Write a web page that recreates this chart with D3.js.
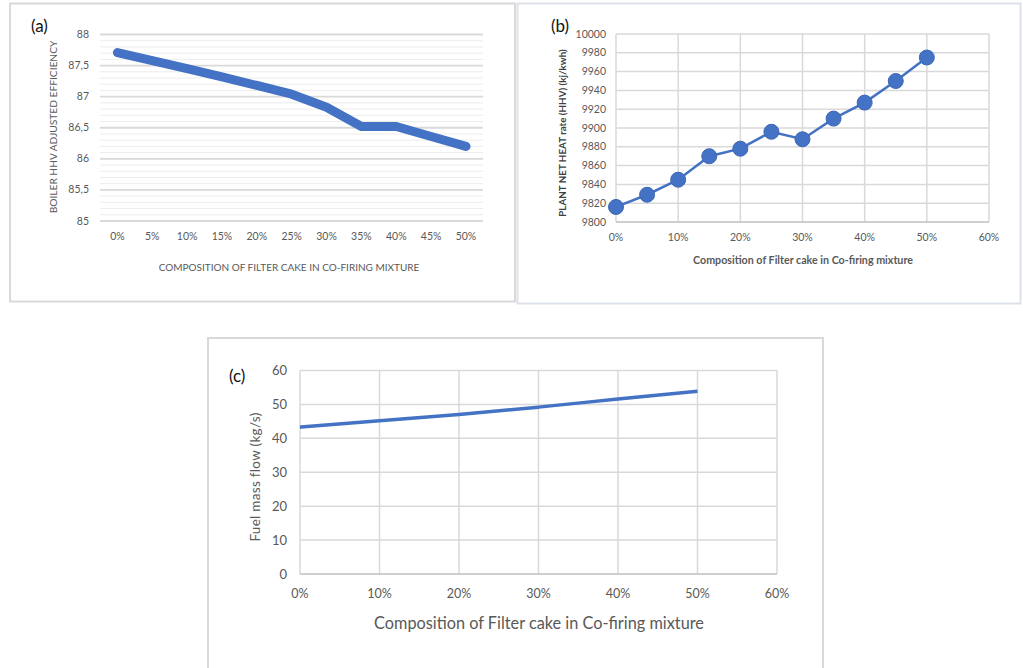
<!DOCTYPE html>
<html><head><meta charset="utf-8">
<script src="https://cdn.jsdelivr.net/npm/d3@7"></script>
<style>
body{margin:0;background:#fff;}
svg{display:block;font-family:Lato,"Open Sans",sans-serif;}
</style></head>
<body><svg id="c" width="1023" height="668"></svg>
<script>
// ---- data ----
const catsA = ["0%","5%","10%","15%","20%","25%","30%","35%","40%","45%","50%"];
const effA = [87.71,87.58,87.45,87.32,87.18,87.04,86.83,86.52,86.52,86.36,86.2];
const yTicksA = [85,85.5,86,86.5,87,87.5,88];

const compB = [0,5,10,15,20,25,30,35,40,45,50];
const heatB = [9816,9829,9845,9870,9878,9896,9888,9910,9927,9950,9975];
const yTicksB = [9800,9820,9840,9860,9880,9900,9920,9940,9960,9980,10000];
const xTicksB = [0,10,20,30,40,50,60];

const compC = [0,10,20,30,40,50];
const flowC = [43.3,45.2,47.0,49.2,51.6,53.9];
const yTicksC = [0,10,20,30,40,50,60];
const xTicksC = [0,10,20,30,40,50,60];

const blue = "#4472C4";
const grid = "#d9d9d9";
const tickCol = "#595959";
const svg = d3.select("#c");

// panel borders
svg.append("rect").attr("x",10).attr("y",3.5).attr("width",505).attr("height",298).attr("fill","none").attr("stroke","#d9d9d9").attr("stroke-width",2);
svg.append("rect").attr("x",517.5).attr("y",3.5).attr("width",503).attr("height",300).attr("fill","none").attr("stroke","#dde2ea").attr("stroke-width",2);
svg.append("rect").attr("x",208).attr("y",338).attr("width",615).attr("height",340).attr("fill","none").attr("stroke","#d9d9d9").attr("stroke-width",2);

// ===== Panel (a) =====
{
  const x = d3.scalePoint().domain(catsA).range([117.4,466]);
  const y = d3.scaleLinear().domain([85,88]).range([221,34.5]);
  const g = svg.append("g");
  const minor = d3.range(85,88.001,0.1).map(v=>+v.toFixed(1));
  g.selectAll(".mn").data(minor.filter(v=>!yTicksA.some(t=>Math.abs(t-v)<1e-6))).join("line")
    .attr("x1",100).attr("x2",483).attr("y1",d=>y(d)).attr("y2",d=>y(d))
    .attr("stroke","#ececec").attr("stroke-width",1);
  g.selectAll(".mj").data(yTicksA).join("line")
    .attr("x1",100).attr("x2",483).attr("y1",d=>y(d)).attr("y2",d=>y(d))
    .attr("stroke",grid).attr("stroke-width",1.8);
  g.selectAll(".yl").data(yTicksA).join("text")
    .attr("x",89).attr("y",d=>y(d)+3.5).attr("text-anchor","end")
    .attr("font-size",10.5).attr("fill",tickCol).text(d=>String(d).replace(".",","));
  g.selectAll(".xl").data(catsA).join("text")
    .attr("x",d=>x(d)).attr("y",240).attr("text-anchor","middle")
    .attr("font-size",10.5).attr("fill",tickCol).text(d=>d);
  g.append("path").datum(effA).attr("fill","none").attr("stroke",blue)
    .attr("stroke-width",9).attr("stroke-linejoin","round").attr("stroke-linecap","round")
    .attr("d",d3.line().x((d,i)=>x(catsA[i])).y(d=>y(d)));
  g.append("text").attr("x",289).attr("y",271).attr("text-anchor","middle")
    .attr("font-size",10).attr("fill",tickCol).text("COMPOSITION OF FILTER CAKE IN CO-FIRING MIXTURE");
  g.append("text").attr("transform","translate(57,127) rotate(-90)").attr("text-anchor","middle")
    .attr("font-size",10.2).attr("fill",tickCol).text("BOILER HHV ADJUSTED EFFICIENCY");
  g.append("text").attr("x",31).attr("y",32).attr("font-size",17).attr("fill","#111").text("(a)");
}

// ===== Panel (b) =====
{
  const x = d3.scaleLinear().domain([0,60]).range([616,989]);
  const y = d3.scaleLinear().domain([9800,10000]).range([222,34]);
  const g = svg.append("g");
  g.selectAll(".hg").data(yTicksB).join("line")
    .attr("x1",616).attr("x2",989).attr("y1",d=>y(d)).attr("y2",d=>y(d))
    .attr("stroke",grid).attr("stroke-width",1.5);
  g.selectAll(".vg").data(xTicksB).join("line")
    .attr("y1",34).attr("y2",222).attr("x1",d=>x(d)).attr("x2",d=>x(d))
    .attr("stroke",grid).attr("stroke-width",1.5);
  g.append("line").attr("x1",616).attr("x2",989).attr("y1",222).attr("y2",222).attr("stroke","#c8c8c8").attr("stroke-width",1.5);
  g.selectAll(".yl").data(yTicksB).join("text")
    .attr("x",606).attr("y",d=>y(d)+3.5).attr("text-anchor","end")
    .attr("font-size",10.5).attr("fill",tickCol).text(d=>d);
  g.selectAll(".xl").data(xTicksB).join("text")
    .attr("x",d=>x(d)).attr("y",241).attr("text-anchor","middle")
    .attr("font-size",10.5).attr("fill",tickCol).text(d=>d+"%");
  g.append("path").datum(heatB).attr("fill","none").attr("stroke",blue).attr("stroke-width",2.5)
    .attr("d",d3.line().x((d,i)=>x(compB[i])).y(d=>y(d)));
  g.selectAll(".pt").data(heatB).join("circle")
    .attr("cx",(d,i)=>x(compB[i])).attr("cy",d=>y(d)).attr("r",7.5)
    .attr("fill",blue).attr("stroke","#3d67b5").attr("stroke-width",1);
  g.append("text").attr("x",803).attr("y",264).attr("text-anchor","middle")
    .attr("font-size",10.7).attr("font-weight","bold").attr("fill",tickCol).text("Composition of Filter cake in Co-firing mixture");
  g.append("text").attr("transform","translate(566,133) rotate(-90)").attr("text-anchor","middle")
    .attr("font-size",9.8).attr("font-weight","bold").attr("fill","#404040").text("PLANT NET HEAT rate (HHV) (kj/kwh)");
  g.append("text").attr("x",551).attr("y",32).attr("font-size",17).attr("fill","#111").text("(b)");
}

// ===== Panel (c) =====
{
  const x = d3.scaleLinear().domain([0,60]).range([300,777]);
  const y = d3.scaleLinear().domain([0,60]).range([574,370.5]);
  const g = svg.append("g");
  g.selectAll(".hg").data(yTicksC).join("line")
    .attr("x1",300).attr("x2",777).attr("y1",d=>y(d)).attr("y2",d=>y(d))
    .attr("stroke",grid).attr("stroke-width",1.5);
  g.selectAll(".vg").data(xTicksC).join("line")
    .attr("y1",370.5).attr("y2",574).attr("x1",d=>x(d)).attr("x2",d=>x(d))
    .attr("stroke",grid).attr("stroke-width",1.5);
  g.append("line").attr("x1",300).attr("x2",777).attr("y1",574).attr("y2",574).attr("stroke","#c8c8c8").attr("stroke-width",1.5);
  g.selectAll(".yl").data(yTicksC).join("text")
    .attr("x",287).attr("y",d=>y(d)+4.5).attr("text-anchor","end")
    .attr("font-size",13).attr("fill",tickCol).text(d=>d);
  g.selectAll(".xl").data(xTicksC).join("text")
    .attr("x",d=>x(d)).attr("y",598).attr("text-anchor","middle")
    .attr("font-size",12.5).attr("fill",tickCol).text(d=>d+"%");
  g.append("path").datum(flowC).attr("fill","none").attr("stroke",blue).attr("stroke-width",3.5)
    .attr("d",d3.line().curve(d3.curveMonotoneX).x((d,i)=>x(compC[i])).y(d=>y(d)));
  g.append("text").attr("x",539).attr("y",629).attr("text-anchor","middle")
    .attr("font-size",16.3).attr("fill",tickCol).text("Composition of Filter cake in Co-firing mixture");
  g.append("text").attr("transform","translate(260,477) rotate(-90)").attr("text-anchor","middle")
    .attr("font-size",13.5).attr("letter-spacing",0.3).attr("fill",tickCol).text("Fuel mass flow (kg/s)");
  g.append("text").attr("x",229).attr("y",382).attr("font-size",17).attr("fill","#111").text("(c)");
}
</script></body></html>
